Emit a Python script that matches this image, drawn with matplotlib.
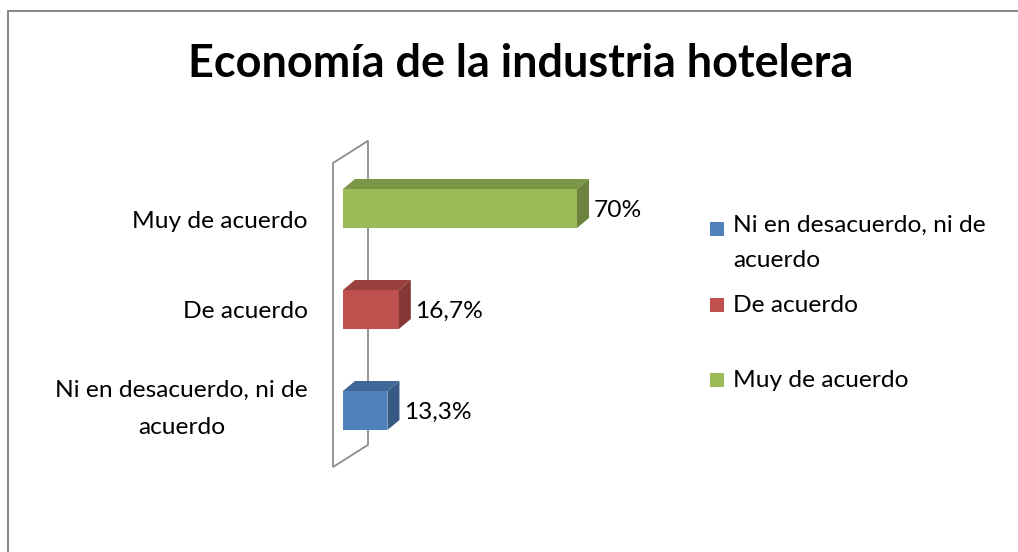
import matplotlib
matplotlib.use("Agg")
import matplotlib.pyplot as plt
import matplotlib.colors as mcolors
from matplotlib.patches import Polygon, Rectangle
from matplotlib.font_manager import FontProperties

# ---------------- data ----------------
title = "Economía de la industria hotelera"
categories = ["Ni en desacuerdo, ni de\nacuerdo", "De acuerdo", "Muy de acuerdo"]
values = [13.3, 16.7, 70.0]
value_labels = ["13,3%", "16,7%", "70%"]
legend_labels = ["Ni en desacuerdo, ni de\nacuerdo", "De acuerdo", "Muy de acuerdo"]
colors = ["#4F81BD", "#C0504D", "#9BBB59"]

# ---------------- layout ----------------
W, H, DPI = 1018, 552, 100
FAMILY = ["Lato", "DejaVu Sans"]
fig = plt.figure(figsize=(W / DPI, H / DPI), dpi=DPI)
fig.patch.set_facecolor("white")
renderer = fig.canvas.get_renderer()


def fig_rect(l, t, r, b):
    return [l / W, 1 - b / H, (r - l) / W, (b - t) / H]


def fit_size(text, target_px, weight="normal"):
    fp = FontProperties(family=FAMILY, weight=weight, size=20)
    w, h, d = renderer.get_text_width_height_descent(text, fp, ismath=False)
    return 20 * target_px / w


def line_spacing(size, target_px, weight="normal"):
    fp = FontProperties(family=FAMILY, weight=weight, size=size)
    w, h, d = renderer.get_text_width_height_descent("lp", fp, ismath=False)
    return target_px / (h - d)


def shade(c, f):
    r, g, b = mcolors.to_rgb(c)
    return (r * f, g * f, b * f)


fs_title = fit_size(title, 665, "bold")
fs_text = fit_size("Ni en desacuerdo, ni de", 253)

# chart-area border (only left/top visible in the reference)
fig.add_artist(Rectangle((8 / W, -0.2), 1.2, 1.2 - 11 / H, transform=fig.transFigure,
                         fill=False, edgecolor="#868686", linewidth=1.4))

# title
fig.text(520.5 / W, 1 - 77 / H, title, ha="center", va="baseline",
         fontsize=fs_title, fontweight="bold", family=FAMILY, color="black")

# main axes: value scale in percent
PPP = 3.343          # pixels per percent
X0 = 343             # pixel of 0 %
STEP = 101           # pixels between categories
YC0 = 410.5          # pixel of first category centre
L, R, T, B = 300, 700, 120, 480
ax = fig.add_axes(fig_rect(L, T, R, B))
ax.set_xlim((L - X0) / PPP, (R - X0) / PPP)
ax.set_ylim(-(B - YC0) / STEP, (YC0 - T) / STEP)
ax.axis("off")

# 3-D wall (side wall behind the bars)
wx = -10 / PPP
wy0, wy1 = -0.56, 2.45
wdx, wdy = 35 / PPP, 0.22
ax.add_patch(Polygon([(wx, wy0), (wx, wy1), (wx + wdx, wy1 + wdy), (wx + wdx, wy0 + wdy)],
                     closed=True, fill=False, edgecolor="#8C8C8C", linewidth=1.3,
                     zorder=1, clip_on=False))

# bars
bar_h = 39 / STEP
ddx, ddy = 12 / PPP, 10 / STEP
bars = ax.barh(range(len(values)), values, height=bar_h, color=colors,
               linewidth=0, zorder=3)
for rect, col, lab in zip(bars, colors, value_labels):
    x, y, w, h = rect.get_x(), rect.get_y(), rect.get_width(), rect.get_height()
    ax.add_patch(Polygon([(x, y + h), (x + w, y + h), (x + w + ddx, y + h + ddy),
                          (x + ddx, y + h + ddy)], closed=True,
                         facecolor=shade(col, 0.8), edgecolor="none", zorder=3))
    ax.add_patch(Polygon([(x + w, y), (x + w + ddx, y + ddy), (x + w + ddx, y + h + ddy),
                          (x + w, y + h)], closed=True,
                         facecolor=shade(col, 0.7), edgecolor="none", zorder=3))
    ax.text(x + w + ddx + 1.4, y + h / 2, lab, ha="left", va="center_baseline",
            fontsize=fs_text, family=FAMILY, color="black", zorder=4)

# category labels (axis with the category scale of the chart)
ax2 = fig.add_axes(fig_rect(320, T, 330, B))
ax2.set_ylim(1 - (B - 309) / 90, 1 + (309 - T) / 90)
ax2.set_yticks(range(len(categories)))
ax2.set_yticklabels(categories, fontsize=fs_text, family=FAMILY)
ax2.set_xticks([])
ax2.tick_params(axis="y", length=0, pad=12 * 72 / DPI)
for s in ax2.spines.values():
    s.set_visible(False)
ax2.patch.set_visible(False)
ls_cat = line_spacing(fs_text, 33)
for t in ax2.get_yticklabels():
    t.set_multialignment("center")
    t.set_linespacing(ls_cat)

# legend (first line of each entry aligned with its swatch)
LEG_LINE = 31
ls_leg = line_spacing(fs_text, LEG_LINE)
for k, (lab, col) in enumerate(zip(legend_labels, colors)):
    top = 222 + 75.5 * k
    fig.add_artist(Rectangle((710 / W, 1 - (top + 14) / H), 14 / W, 14 / H,
                             transform=fig.transFigure, facecolor=col, edgecolor="none"))
    nlines = lab.count("\n") + 1
    base_last = top + 14 + (nlines - 1) * LEG_LINE
    fig.text(733 / W, 1 - base_last / H, lab, ha="left", va="baseline",
             fontsize=fs_text, family=FAMILY, linespacing=ls_leg, color="black")

fig.savefig("out.png", dpi=DPI, facecolor="white")
